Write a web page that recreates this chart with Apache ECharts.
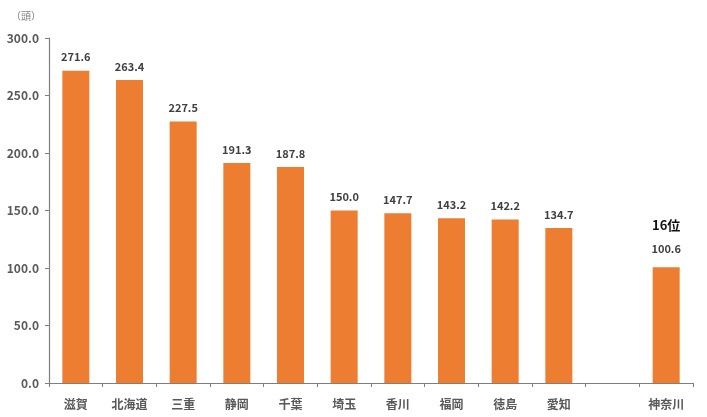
<!DOCTYPE html>
<html>
<head>
<meta charset="utf-8">
<script src="https://cdn.jsdelivr.net/npm/echarts@6/dist/echarts.min.js"></script>
<style>
  html, body { margin: 0; padding: 0; background: #fff; }
  #chart { width: 707px; height: 417px; }
</style>
</head>
<body>
<div id="chart"></div>
<script>
// prefectures, one blank slot before Kanagawa (16th)
const prefs = ['滋賀', '北海道', '三重', '静岡', '千葉', '埼玉', '香川', '福岡', '徳島', '愛知', '', '神奈川'];
const heads = [271.6, 263.4, 227.5, 191.3, 187.8, 150.0, 147.7, 143.2, 142.2, 134.7, null, 100.6];
const yTicks = [0, 50, 100, 150, 200, 250, 300];
const rankNote = '16位';

const font = '"Noto Sans CJK JP", "Noto Sans", sans-serif';
const chart = echarts.init(document.getElementById('chart'));

const barData = heads.map(function (v, i) {
  if (v === null) return '-';
  if (prefs[i] === '神奈川') {
    return {
      value: v,
      label: {
        formatter: '{r|' + rankNote + '}\n{v|' + v.toFixed(1) + '}',
        rich: {
          r: { fontFamily: font, fontSize: 13, fontWeight: 'bold', color: '#111', lineHeight: 28 },
          v: { fontFamily: font, fontSize: 11, fontWeight: 'bold', color: '#404040', lineHeight: 20 }
        }
      }
    };
  }
  return v;
});

chart.setOption({
  animation: false,
  grid: { left: 49, right: 14, top: 38, bottom: 34 },
  graphic: [{
    type: 'text', left: 11, top: 11,
    style: { text: '（頭）', fontFamily: font, fontSize: 10, fill: '#7f7f7f' }
  }],
  xAxis: {
    type: 'category',
    data: prefs,
    axisLine: { lineStyle: { color: '#7f7f7f', width: 1.2 } },
    axisTick: { show: true, length: 4, lineStyle: { color: '#7f7f7f' } },
    axisLabel: { fontFamily: font, fontSize: 12, fontWeight: 'bold', color: '#595959', margin: 15 }
  },
  yAxis: {
    type: 'value',
    min: yTicks[0],
    max: yTicks[yTicks.length - 1],
    interval: 50,
    splitLine: { show: false },
    axisLine: { show: true, lineStyle: { color: '#7f7f7f', width: 1.2 } },
    axisTick: { show: true, length: 4, lineStyle: { color: '#7f7f7f' } },
    axisLabel: {
      fontFamily: font, fontSize: 12, fontWeight: 'bold', color: '#595959', margin: 10,
      formatter: function (v) { return v.toFixed(1); }
    }
  },
  series: [{
    type: 'bar',
    data: barData,
    barWidth: 27,
    itemStyle: { color: '#ED7D31' },
    label: {
      show: true,
      position: 'top',
      distance: 8,
      fontFamily: font,
      fontSize: 11,
      fontWeight: 'bold',
      color: '#404040',
      formatter: function (p) { return Number(p.value).toFixed(1); }
    }
  }]
});
</script>
</body>
</html>
